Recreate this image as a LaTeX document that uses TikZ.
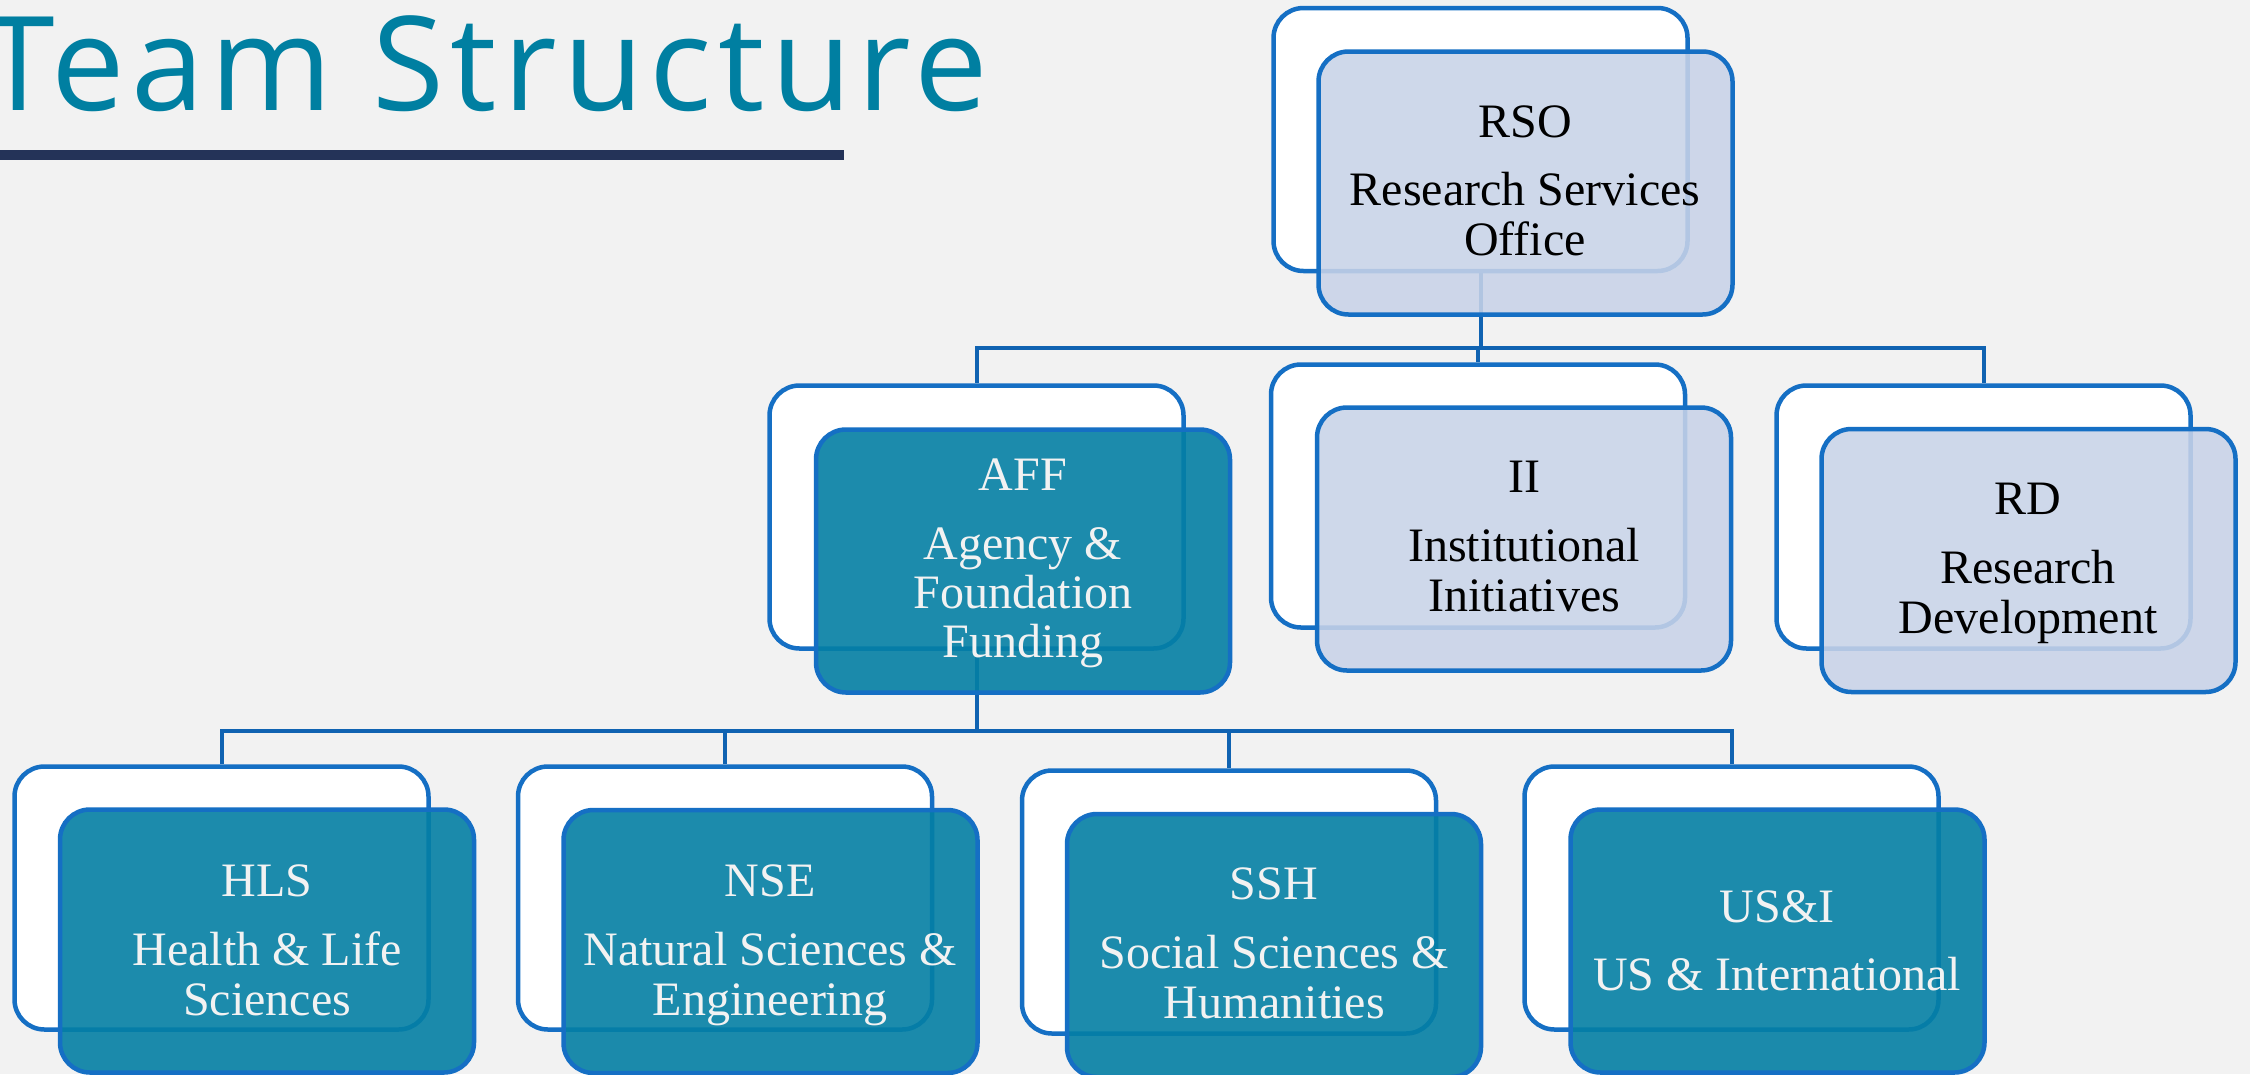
\documentclass[tikz,border=0pt]{standalone}
\usepackage{fontspec}
\setmainfont{Liberation Serif}
\newfontfamily\titlefont[LetterSpace=4.8]{Open Sans}
\definecolor{bg}{RGB}{242,242,242}
\definecolor{bord}{RGB}{21,111,196}
\definecolor{conncol}{RGB}{16,99,178}
\definecolor{lightfill}{RGB}{200,211,232}
\definecolor{tealfill}{RGB}{4,127,164}
\definecolor{titlecol}{RGB}{0,127,161}
\definecolor{rulecol}{RGB}{36,51,88}
\definecolor{lighttext}{RGB}{242,242,242}
\tikzset{
  boxbase/.style={rectangle, draw=bord, line width=4.5pt, rounded corners=30pt,
    minimum width=414pt, minimum height=263pt, inner sep=0pt},
  backbox/.style={boxbase, fill=white},
  lightbox/.style={boxbase, fill=lightfill, fill opacity=0.88},
  tealbox/.style={boxbase, fill=tealfill, fill opacity=0.9},
  connector/.style={draw=conncol, line width=4pt},
  lbl/.style={font=\fontsize{48}{50}\selectfont, anchor=base, inner sep=0pt},
  dlbl/.style={lbl, text=black},
  wlbl/.style={lbl, text=lighttext},
}
\begin{document}
\begin{tikzpicture}[x=1pt, y=-1pt]
\fill[bg] (0,0) rectangle (2250,1074);
\useasboundingbox (0,0) rectangle (2250,1074);

% title
\node[anchor=base west, inner sep=0pt, text=titlecol,
  font=\titlefont\fontsize{131}{140}\selectfont] (title) at (-18,110) {Team Structure};
\node[fill=rulecol, minimum width=844pt, minimum height=10pt, inner sep=0pt, anchor=west] (rule) at (0,155) {};

% bus coordinates
\coordinate (bus1) at (0,348);
\coordinate (bus2) at (0,731);

% back boxes (positions)
\coordinate (rsoBc) at (1480.5,139.5);
\coordinate (affBc) at (976.5,517);
\coordinate (iiBc) at (1478,496);
\coordinate (rdBc) at (1983.5,517);
\coordinate (hlsBc) at (221.5,898);
\coordinate (nseBc) at (725,898);
\coordinate (sshBc) at (1229,902);
\coordinate (usiBc) at (1731.5,898);

% invisible anchors for connectors
\path (rsoBc) node[boxbase, draw=none] (rsoB0) {};
\path (affBc) node[boxbase, draw=none] (affB0) {};
\path (iiBc) node[boxbase, draw=none] (iiB0) {};
\path (rdBc) node[boxbase, draw=none] (rdB0) {};
\path (hlsBc) node[boxbase, draw=none] (hlsB0) {};
\path (nseBc) node[boxbase, draw=none] (nseB0) {};
\path (sshBc) node[boxbase, draw=none] (sshB0) {};
\path (usiBc) node[boxbase, draw=none] (usiB0) {};

\draw[connector] (rsoB0.south) -- (rsoB0.south |- bus1) -| (affB0.north);
\draw[connector] (rsoB0.south) -- (rsoB0.south |- bus1) -| (iiB0.north);
\draw[connector] (rsoB0.south) -- (rsoB0.south |- bus1) -| (rdB0.north);
\draw[connector] (affB0.south) -- (affB0.south |- bus2) -| (hlsB0.north);
\draw[connector] (affB0.south) -- (affB0.south |- bus2) -| (nseB0.north);
\draw[connector] (affB0.south) -- (affB0.south |- bus2) -| (sshB0.north);
\draw[connector] (affB0.south) -- (affB0.south |- bus2) -| (usiB0.north);

% back boxes
\node[backbox] (rsoB) at (rsoBc) {};
\node[backbox] (affB) at (affBc) {};
\node[backbox] (iiB) at (iiBc) {};
\node[backbox] (rdB) at (rdBc) {};
\node[backbox] (hlsB) at (hlsBc) {};
\node[backbox] (nseB) at (nseBc) {};
\node[backbox] (sshB) at (sshBc) {};
\node[backbox] (usiB) at (usiBc) {};

% front boxes
\node[lightbox] (rso) at (1525.5,183) {};
\node[tealbox] (aff) at (1023,561) {};
\node[lightbox] (ii) at (1524,539) {};
\node[lightbox] (rd) at (2028.5,560.5) {};
\node[tealbox] (hls) at (267,941) {};
\node[tealbox] (nse) at (770.5,941.5) {};
\node[tealbox] (ssh) at (1274,945.5) {};
\node[tealbox] (usi) at (1777.5,941) {};

% texts
\node[dlbl] (rso1) at (1525,137) {RSO};
\node[dlbl] (rso2) at (1525,205) {Research Services};
\node[dlbl] (rso3) at (1525,255) {Office};

\node[wlbl] (aff1) at (1023,490) {AFF};
\node[wlbl] (aff2) at (1023,559) {Agency \&};
\node[wlbl] (aff3) at (1023,608) {Foundation};
\node[wlbl] (aff4) at (1023,657) {Funding};

\node[dlbl] (ii1) at (1524,492) {II};
\node[dlbl] (ii2) at (1524,561) {Institutional};
\node[dlbl] (ii3) at (1524,611) {Initiatives};

\node[dlbl] (rd1) at (2028,514) {RD};
\node[dlbl] (rd2) at (2028,583) {Research};
\node[dlbl] (rd3) at (2028,633) {Development};

\node[wlbl] (hls1) at (267,896) {HLS};
\node[wlbl] (hls2) at (267,965) {Health \& Life};
\node[wlbl] (hls3) at (267,1015) {Sciences};

\node[wlbl] (nse1) at (770,896) {NSE};
\node[wlbl] (nse2) at (770,965) {Natural Sciences \&};
\node[wlbl] (nse3) at (770,1015) {Engineering};

\node[wlbl] (ssh1) at (1274,899) {SSH};
\node[wlbl] (ssh2) at (1274,968) {Social Sciences \&};
\node[wlbl] (ssh3) at (1274,1018) {Humanities};

\node[wlbl] (usi1) at (1777,922) {US\&I};
\node[wlbl] (usi2) at (1777,990) {US \& International};
\end{tikzpicture}
\end{document}
